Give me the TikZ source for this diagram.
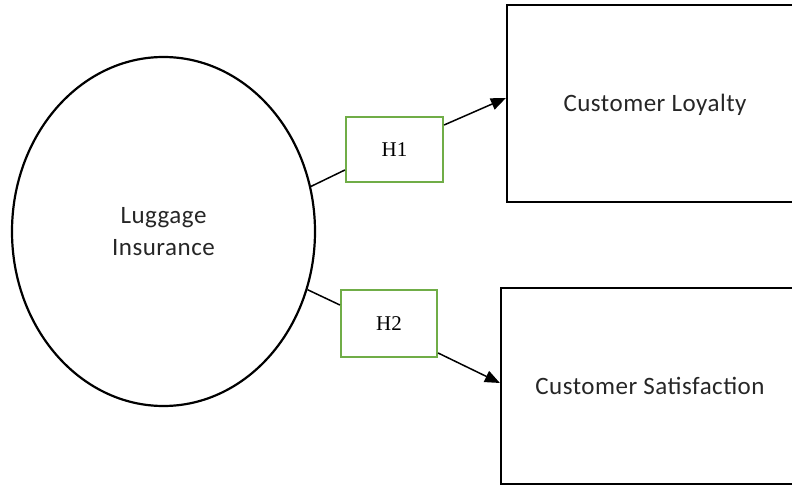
\documentclass[tikz,border=0pt]{standalone}
\usepackage{fontspec}
\newfontfamily\cfont[LetterSpace=2]{Carlito}
\newfontfamily\sfont{Liberation Serif}
\usetikzlibrary{shapes.geometric,arrows.meta}
\definecolor{hgreen}{HTML}{70AD47}
\definecolor{txt}{HTML}{262626}
\begin{document}
\begin{tikzpicture}[x=1pt,y=-1pt,
  construct/.style={draw=black,line width=2.2pt,font=\cfont\fontsize{25}{32}\selectfont,text=txt,inner sep=0pt,align=center},
  outcome/.style={construct,rectangle,text height=22pt,text depth=6pt},
  hypo/.style={draw=hgreen,line width=2.2pt,rectangle,inner sep=0pt,font=\sfont\fontsize{21}{25}\selectfont},
  link/.style={line width=1.5pt},
  arrowlink/.style={link,-{Triangle[length=15pt,width=12pt]}}]
\useasboundingbox (0,0) rectangle (792,486);
\clip (0,0) rectangle (792,486);
\node[construct,ellipse,minimum width=303,minimum height=349] (L) at (163.5,231.5) {Luggage\\Insurance};
\node[outcome,minimum width=296,minimum height=197] (CL) at (655,103.5) {Customer Loyalty};
\node[outcome,minimum width=298,minimum height=196] (CS) at (650,386) {Customer Satisfaction};
\node[hypo,minimum width=97,minimum height=65] (H1) at (394.5,149.5) {H1};
\node[hypo,minimum width=96,minimum height=67] (H2) at (389,323.5) {H2};
\draw[link] (L.17) -- ([yshift=-20.5pt]H1.west);
\draw[arrowlink] ([yshift=24.5pt]H1.east) -- ([yshift=5.5pt]CL.west);
\draw[link] (L.-22) -- ([yshift=18.5pt]H2.west);
\draw[arrowlink] ([yshift=-29.5pt]H2.east) -- ([yshift=3pt]CS.west);
\end{tikzpicture}
\end{document}
